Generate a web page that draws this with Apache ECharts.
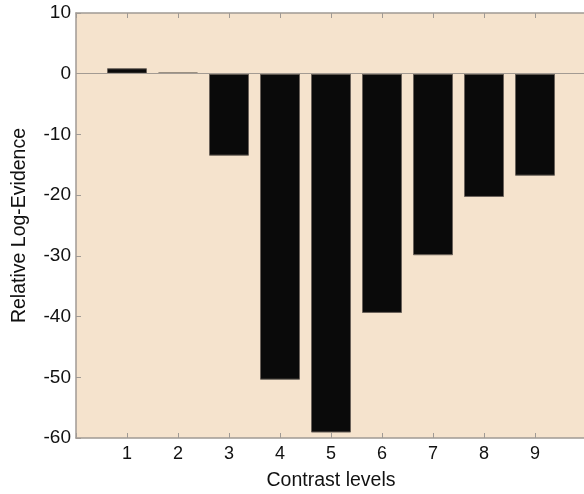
<!DOCTYPE html>
<html>
<head>
<meta charset="utf-8">
<script src="https://cdn.jsdelivr.net/npm/echarts@6/dist/echarts.min.js"></script>
<style>html,body{margin:0;padding:0;background:#fff}#c{width:584px;height:494px}</style>
</head>
<body>
<div id="c"></div>
<script>
const levels = [1, 2, 3, 4, 5, 6, 7, 8, 9];
const logEvidence = [0.9, 0.2, -13.5, -50.4, -59.1, -39.4, -29.9, -20.3, -16.8];
const yTicks = [10, 0, -10, -20, -30, -40, -50, -60];

const chart = echarts.init(document.getElementById('c'), null, {renderer: 'canvas'});
const font = 'Liberation Sans, Arial, Helvetica, sans-serif';
const axisColor = '#a09a94';
chart.setOption({
  animation: false,
  grid: {left: 76, right: -2, top: 13, bottom: 56, show: true, backgroundColor: '#f5e3cd', borderWidth: 0,
    containLabel: false, outerBoundsMode: 'none'},
  xAxis: [{
    type: 'value', min: 0, max: 10, interval: 1,
    name: 'Contrast levels', nameLocation: 'middle', nameGap: 33,
    nameTextStyle: {fontFamily: font, fontSize: 19.5, color: '#111'},
    axisLine: {show: true, onZero: false, lineStyle: {color: axisColor, width: 1.5}},
    axisTick: {show: true, inside: true, length: 5, lineStyle: {color: axisColor}},
    axisLabel: {fontFamily: font, fontSize: 18, color: '#111', margin: 7,
      formatter: v => (v >= 1 && v <= 9) ? String(v) : ''},
    splitLine: {show: false}
  }, {
    type: 'value', min: 0, max: 10, interval: 1, position: 'top',
    axisLine: {show: true, onZero: false, lineStyle: {color: axisColor, width: 1.5}},
    axisTick: {show: true, inside: true, length: 5, lineStyle: {color: axisColor}},
    axisLabel: {show: false}, splitLine: {show: false}
  }],
  yAxis: {
    type: 'value', min: -60, max: 10, interval: 10,
    name: 'Relative Log-Evidence', nameLocation: 'middle', nameGap: 46,
    nameTextStyle: {fontFamily: font, fontSize: 19.5, color: '#111'},
    axisLine: {show: true, onZero: false, lineStyle: {color: axisColor, width: 1.5}},
    axisTick: {show: true, inside: true, length: 5, lineStyle: {color: axisColor}},
    axisLabel: {fontFamily: font, fontSize: 19, color: '#111', margin: 5,
      formatter: v => yTicks.includes(v) ? String(v) : ''},
    splitLine: {show: false}
  },
  series: [{
    type: 'bar',
    xAxisIndex: 0,
    barWidth: 40,
    data: levels.map((l, i) => [l, logEvidence[i]]),
    itemStyle: {color: '#0a0a0a', borderColor: '#6b625a', borderWidth: 1},
    markLine: {
      silent: true, symbol: 'none', label: {show: false},
      lineStyle: {color: '#a39b93', width: 1, type: 'solid'},
      data: [{yAxis: 0}]
    },
    z: 3
  }]
});
</script>
</body>
</html>
